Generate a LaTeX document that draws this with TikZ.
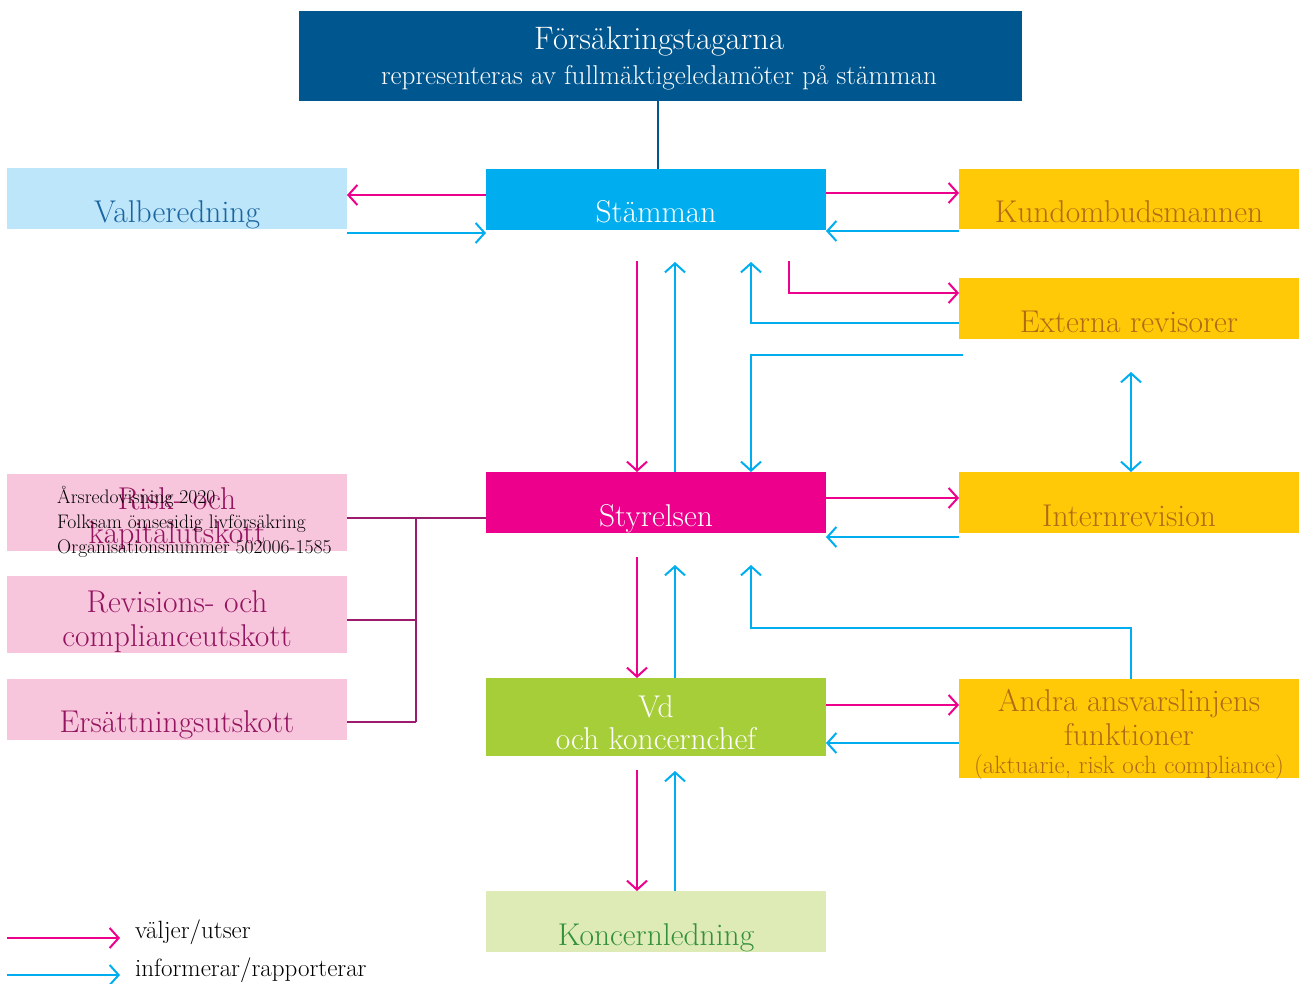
\documentclass[tikz,border=0pt]{standalone}
\usetikzlibrary{arrows.meta}
\definecolor{topblue}{HTML}{00568F}
\definecolor{cyanb}{HTML}{00AEEF}
\definecolor{pinkc}{HTML}{EC008C}
\definecolor{yellowb}{HTML}{FFC907}
\definecolor{yellowt}{HTML}{AE6C18}
\definecolor{lightblue}{HTML}{BEE6FA}
\definecolor{lbtext}{HTML}{1A65A0}
\definecolor{pinkbox}{HTML}{F7C6DD}
\definecolor{purplet}{HTML}{94145F}
\definecolor{purplel}{HTML}{9B1B6D}
\definecolor{greenb}{HTML}{A6CE39}
\definecolor{lgreen}{HTML}{DFEBB7}
\definecolor{greent}{HTML}{33913A}
\tikzset{
  box/.style={draw=none, inner sep=0pt, outer sep=0pt, anchor=north west, minimum width=340pt},
  lbl/.style={anchor=base, inner sep=0pt, font=\fontsize{31.5}{36}\selectfont},
  sml/.style={anchor=base, inner sep=0pt, font=\fontsize{25}{29}\selectfont},
  sel/.style={draw=pinkc, line width=2pt, -{Straight Barb[length=9pt,width=20pt,line width=2pt]}},
  inf/.style={draw=cyanb, line width=2pt, -{Straight Barb[length=9pt,width=20pt,line width=2pt]}},
  infboth/.style={draw=cyanb, line width=2pt, {Straight Barb[length=9pt,width=20pt,line width=2pt]}-{Straight Barb[length=9pt,width=20pt,line width=2pt]}},
  cmt/.style={draw=purplel, line width=2pt},
  ovl/.style={anchor=base west, inner sep=0pt, font=\fontsize{19.6}{23}\selectfont}
}
\begin{document}
\begin{tikzpicture}[x=1pt,y=-1pt]
\useasboundingbox (0,0) rectangle (1299,983);
% boxes
\node[box, fill=topblue, minimum width=723pt, minimum height=90pt] (top) at (299,11) {};
\node[lbl, white, font=\fontsize{32.5}{36}\selectfont] (topt1) at (659,49) {Försäkringstagarna};
\node[sml, white, font=\fontsize{27.2}{31}\selectfont] (topt2) at (659,84) {representeras av fullmäktigeledamöter på stämman};

\node[box, fill=lightblue, minimum height=61pt] (vb) at (7,168) {};
\node[lbl, lbtext] (vbt) at (177,222) {Valberedning};

\node[box, fill=cyanb, minimum height=61pt] (st) at (486,169) {};
\node[lbl, white] (stt) at (656,222) {Stämman};

\node[box, fill=yellowb, minimum height=60pt] (kb) at (959,169) {};
\node[lbl, yellowt] (kbt) at (1129,222) {Kundombudsmannen};

\node[box, fill=yellowb, minimum height=61pt] (er) at (959,278) {};
\node[lbl, yellowt] (ert) at (1129,332) {Externa revisorer};

\node[box, fill=yellowb, minimum height=61pt] (ir) at (959,472) {};
\node[lbl, yellowt] (irt) at (1129,526) {Internrevision};

\node[box, fill=pinkc, minimum height=61pt] (sty) at (486,472) {};
\node[lbl, white] (styt) at (656,526) {Styrelsen};

\node[box, fill=pinkbox, minimum height=77pt] (rk) at (7,474) {};
\node[lbl, purplet] (rkt1) at (177,509) {Risk- och};
\node[lbl, purplet] (rkt2) at (177,543) {kapitalutskott};

\node[box, fill=pinkbox, minimum height=77pt] (rev) at (7,576) {};
\node[lbl, purplet] (revt1) at (177,612) {Revisions- och};
\node[lbl, purplet] (revt2) at (177,646) {complianceutskott};

\node[box, fill=pinkbox, minimum height=61pt] (ers) at (7,679) {};
\node[lbl, purplet] (erst) at (177,732) {Ersättningsutskott};

\node[box, fill=greenb, minimum height=78pt] (vd) at (486,678) {};
\node[lbl, white] (vdt1) at (656,717) {Vd};
\node[lbl, white] (vdt2) at (656,749) {och koncernchef};

\node[box, fill=yellowb, minimum height=99pt] (an) at (959,679) {};
\node[lbl, yellowt] (ant1) at (1129,711) {Andra ansvarslinjens};
\node[lbl, yellowt] (ant2) at (1129,745) {funktioner};
\node[sml, yellowt] (ant3) at (1129,773) {(aktuarie, risk och compliance)};

\node[box, fill=lgreen, minimum height=61pt] (kl) at (486,891) {};
\node[lbl, greent] (klt) at (656,945) {Koncernledning};

% overlay text
\node[ovl] (o1) at (57,503) {Årsredovisning 2020};
\node[ovl] (o2) at (57,528) {Folksam ömsesidig livförsäkring};
\node[ovl] (o3) at (57,553) {Organisationsnummer 502006-1585};

% coordinates for free ends
\coordinate (p1) at (789,261);
\coordinate (q1) at (751,262);
\coordinate (c1) at (963,355);
\coordinate (c2) at (1131,372);
\coordinate (s1) at (637,261);
\coordinate (s2) at (675,262);
\coordinate (s3) at (637,557);
\coordinate (s4) at (675,565);
\coordinate (k1) at (751,628);
\coordinate (s5) at (751,565);
\coordinate (s6) at (637,770);
\coordinate (s7) at (675,771);
\coordinate (j1) at (416,518);
\coordinate (j2) at (416,620);
\coordinate (j3) at (416,722);

% connectors
\draw[draw=topblue, line width=2pt] (top.south -| 658,0) -- (st.north -| 658,0);
\draw[sel] (st.west |- 0,195) -- (vb.east |- 0,195);
\draw[inf] (vb.east |- 0,233) -- (st.west |- 0,233);
\draw[sel] (st.east |- 0,193) -- (kb.west |- 0,193);
\draw[inf] (kb.west |- 0,231) -- (st.east |- 0,231);
\draw[sel] (p1) |- (er.west |- 0,293);
\draw[inf] (er.west |- 0,323) -| (q1);
\draw[inf] (c1) -| (sty.north -| 751,0);
\draw[infboth] (c2) -- (ir.north -| 1131,0);
\draw[sel] (s1) -- (sty.north -| 637,0);
\draw[inf] (sty.north -| 675,0) -- (s2);
\draw[sel] (sty.east |- 0,498) -- (ir.west |- 0,498);
\draw[inf] (ir.west |- 0,537) -- (sty.east |- 0,537);
\draw[sel] (s3) -- (vd.north -| 637,0);
\draw[inf] (vd.north -| 675,0) -- (s4);
\draw[inf] (an.north -| 1131,0) |- (k1) -- (s5);
\draw[sel] (vd.east |- 0,705) -- (an.west |- 0,705);
\draw[inf] (an.west |- 0,743) -- (vd.east |- 0,743);
\draw[sel] (s6) -- (kl.north -| 637,0);
\draw[inf] (kl.north -| 675,0) -- (s7);
\draw[cmt] (sty.west |- j1) -- (rk.east |- j1);
\draw[cmt] (j1) -- (j3);
\draw[cmt] (j2) -- (rev.east |- j2);
\draw[cmt] (j3) -- (ers.east |- j3);

% legend
\coordinate (l1) at (7,938);
\coordinate (l2) at (120,938);
\coordinate (l3) at (7,975);
\coordinate (l4) at (120,975);
\draw[sel] (l1) -- (l2);
\draw[inf] (l3) -- (l4);
\node[ovl, font=\fontsize{25}{29}\selectfont] (leg1) at (135,938) {väljer/utser};
\node[ovl, font=\fontsize{25}{29}\selectfont] (leg2) at (135,976) {informerar/rapporterar};
\end{tikzpicture}
\end{document}
